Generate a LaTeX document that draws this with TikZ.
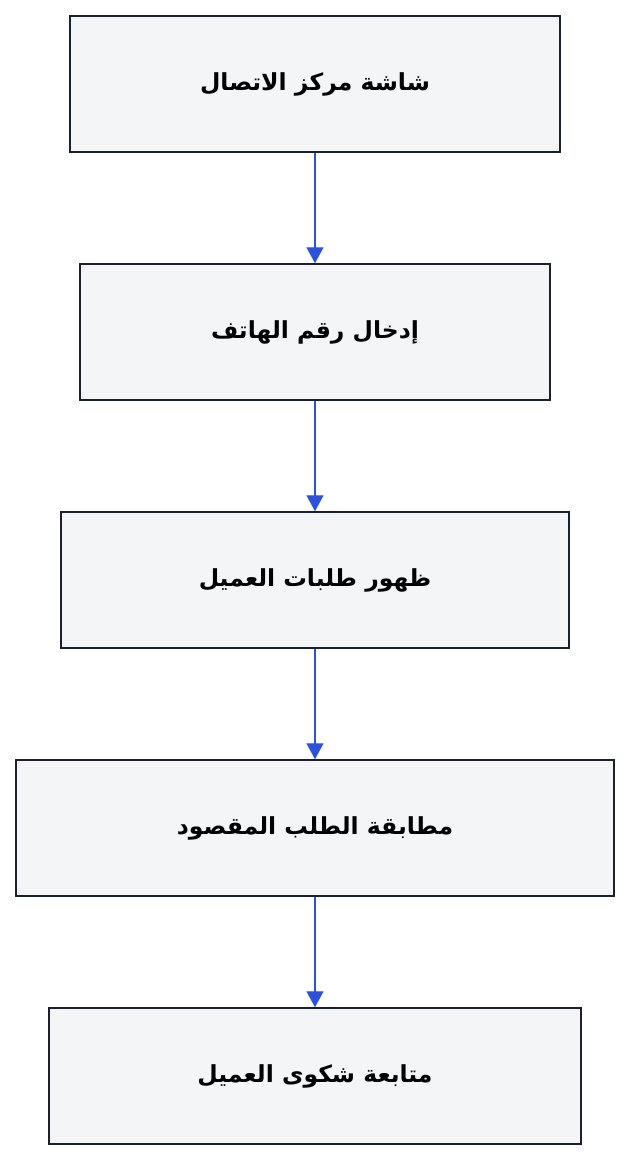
\documentclass[tikz,border=0pt]{standalone}
\usepackage{fontspec}
\newfontfamily\arabicfont[Script=Arabic]{DejaVu Sans}
\TeXXeTstate=1
\usetikzlibrary{arrows.meta,positioning}
\definecolor{boxfill}{HTML}{F4F5F7}
\definecolor{boxline}{HTML}{1B1F2E}
\definecolor{flowblue}{HTML}{2B52D9}
\tikzset{
	stepbox/.style={draw=boxline,fill=boxfill,line width=1.5pt,minimum height=136pt,
		inner sep=0pt,font=\arabicfont\bfseries\fontsize{23.5}{28}\selectfont,text=black!90!boxline},
	flow/.style={draw=flowblue,line width=1.4pt,-{Triangle[width=17pt,length=16pt]}}
}

\begin{document}
\begin{tikzpicture}[x=1pt,y=-1pt]
		\useasboundingbox (0,0) rectangle (630,1160);
		\node[stepbox,minimum width=490pt] (screen) at (315,84) {\beginR شاشة مركز الاتصال\endR};
		\node[stepbox,minimum width=470pt] (phone) at (315,332) {\beginR إدخال رقم الهاتف\endR};
		\node[stepbox,minimum width=508pt] (orders) at (315,580) {\beginR ظهور طلبات العميل\endR};
		\node[stepbox,minimum width=598pt] (match) at (315,828) {\beginR مطابقة الطلب المقصود\endR};
		\node[stepbox,minimum width=532pt] (follow) at (315,1076) {\beginR متابعة شكوى العميل\endR};
		\draw[flow] (screen) -- (phone);
		\draw[flow] (phone) -- (orders);
		\draw[flow] (orders) -- (match);
		\draw[flow] (match) -- (follow);
	\end{tikzpicture}
\end{document}
